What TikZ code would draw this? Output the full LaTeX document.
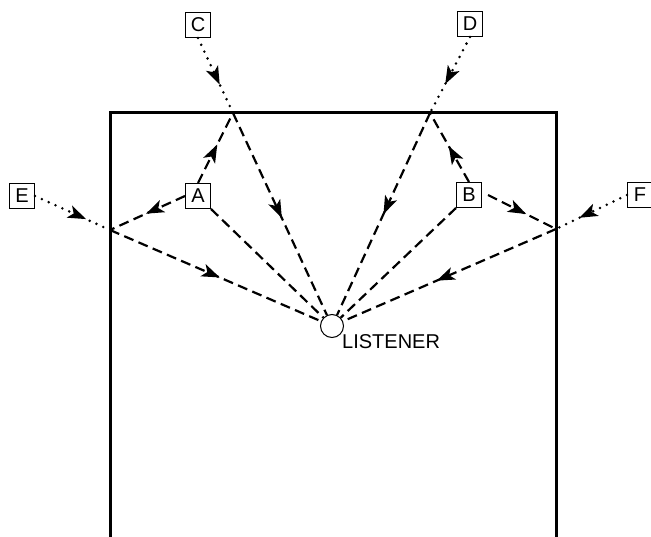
\documentclass[tikz,border=0pt]{standalone}
\usepackage{fontspec}
\setmainfont{Liberation Sans}
\usetikzlibrary{arrows.meta,decorations.markings}
\tikzset{
  wall/.style={line width=3pt},
  label box/.style={draw, line width=1pt, minimum width=25pt, minimum height=25pt,
    inner sep=0pt, font=\fontsize{20}{20}\selectfont},
  reflected/.style={line width=2.2pt, dash pattern=on 10pt off 5.5pt},
  incoming/.style={line width=2.8pt, line cap=round, dash pattern=on 0pt off 7.5pt},
  tip/.style={decoration={markings, mark=at position #1 with
    {\arrow{Stealth[length=18pt,width=13pt,inset=4.5pt]}}}, postaction={decorate}}
}
\begin{document}
\begin{tikzpicture}[x=1pt,y=-1pt]
\useasboundingbox (0,0) rectangle (651,537);

% room walls (open at the bottom)
\draw[wall] (110,537) -- (110,113) -- (556,113) -- (556,537);

% reflection points
\coordinate (p1) at (233,113);
\coordinate (p2) at (430,113);
\coordinate (p3) at (110,230);
\coordinate (p4) at (556,229);

% sources and listener
\node[label box] (C) at (198,25) {C};
\node[label box] (D) at (470,24) {D};
\node[label box] (E) at (22,196) {E};
\node[label box] (F) at (640,195) {F};
\node[label box] (A) at (198,196) {A};
\node[label box] (B) at (469,195) {B};
\node[draw, circle, line width=1pt, minimum size=23pt, inner sep=0pt] (L) at (332,326) {};
\node[anchor=north west, font=\fontsize{20}{20}\selectfont, inner sep=0pt] (Lt) at (342,334) {LISTENER};

% outside sounds arriving at the walls
\draw[incoming, tip=0.62] (C.south) -- (p1);
\draw[incoming, tip=0.62] (D.south) -- (p2);
\draw[incoming, tip=0.68] (E.east) -- (p3);
\draw[incoming, tip=0.67] (F.west) -- (p4);

% sound from A
\draw[reflected, tip=0.55] (A.north) -- (p1);
\draw[reflected, tip=0.52] (A.west) -- (p3);
\draw[reflected] (A.south east) -- (L);

% sound from B
\draw[reflected, tip=0.52] (B.north) -- (p2);
\draw[reflected, tip=0.56] ([xshift=6pt]B.east) -- (p4);
\draw[reflected] (B.south west) -- (L);

% reflections reaching the listener
\draw[reflected, tip=0.52] (p1) -- (L);
\draw[reflected, tip=0.5] (p2) -- (L);
\draw[reflected, tip=0.52] (p3) -- (L);
\draw[reflected, tip=0.56] (p4) -- (L);
\end{tikzpicture}
\end{document}
